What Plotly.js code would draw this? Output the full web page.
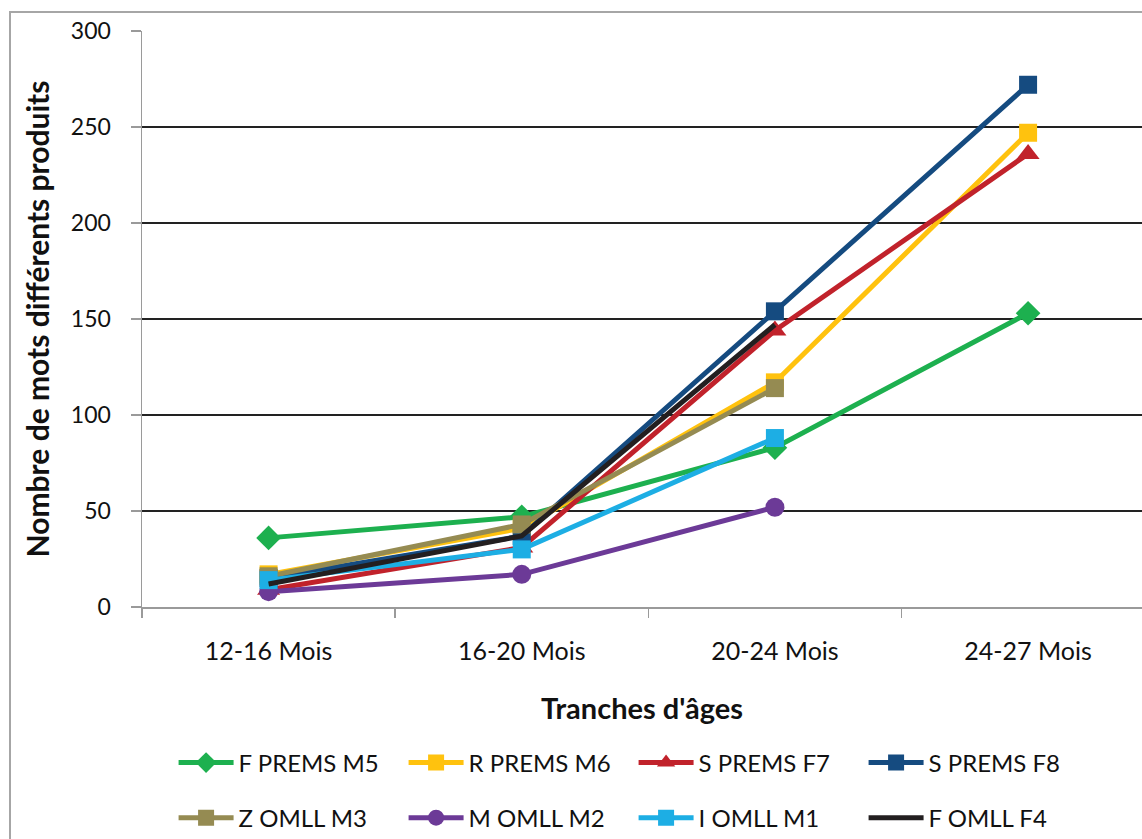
<!DOCTYPE html>
<html>
<head>
<meta charset="utf-8">
<script src="https://cdn.plot.ly/plotly-3.0.1.min.js"></script>
<style>html,body{margin:0;padding:0;background:#fff;}#chart{width:1142px;height:839px;}</style>
</head>
<body>
<div id="chart"></div>
<script>
const categories = ["12-16 Mois", "16-20 Mois", "20-24 Mois", "24-27 Mois"];
const seriesNames = ["F PREMS M5", "R PREMS M6", "S PREMS F7", "S PREMS F8", "Z OMLL M3", "M OMLL M2", "I OMLL M1", "F OMLL F4"];
const fPremsM5 = [36, 47, 83, 153];
const rPremsM6 = [17, 41, 117, 247];
const sPremsF7 = [9, 31, 144, 236];
const sPremsF8 = [15, 37, 154, 272];
const zOmllM3 = [16, 43, 114, null];
const mOmllM2 = [8, 17, 52, null];
const iOmllM1 = [14, 30, 88, null];
const fOmllF4 = [12, 37, 147, null];
const yTicks = [0, 50, 100, 150, 200, 250, 300];

const seriesValues = [fPremsM5, rPremsM6, sPremsF7, sPremsF8, zOmllM3, mOmllM2, iOmllM1, fOmllF4];
const colors = ["#1DB04F", "#FFC20E", "#C1222B", "#154B80", "#958B52", "#6C3A97", "#1DAEE4", "#231F20"];
const symbols = ["diamond", "square", "triangle-up", "square", "square", "circle", "square", null];
const sizes = [19, 18, 20, 18, 18, 19, 18, 0];

const traces = seriesNames.map((name, i) => ({
  type: "scatter",
  mode: symbols[i] ? "lines+markers" : "lines",
  name: name,
  x: categories,
  y: seriesValues[i],
  line: {color: colors[i], width: 5},
  marker: {symbol: symbols[i] || "circle", size: sizes[i] || 1, color: colors[i]},
  legend: i < 4 ? "legend" : "legend2",
  connectgaps: false
}));

const font = "Lato, sans-serif";
const legendCommon = {
  orientation: "h",
  xref: "container", yref: "container",
  x: 0.152, xanchor: "left",
  yanchor: "middle",
  font: {family: font, size: 24, color: "#111"},
  itemwidth: 55,
  entrywidth: 160,
  entrywidthmode: "pixels",
  bgcolor: "rgba(0,0,0,0)",
  traceorder: "normal"
};

const layout = {
  width: 1142, height: 839,
  margin: {l: 142, r: 0, t: 31, b: 232},
  paper_bgcolor: "#fff",
  plot_bgcolor: "#fff",
  font: {family: font, color: "#111"},
  showlegend: true,
  xaxis: {
    type: "category",
    range: [-0.5, 3.45],
    tickson: "boundaries",
    ticks: "outside",
    ticklen: 9,
    tickcolor: "#9a9a9a",
    tickwidth: 1.5,
    showline: true,
    linecolor: "#9a9a9a",
    linewidth: 1.5,
    showgrid: false,
    zeroline: false,
    tickfont: {family: font, size: 25, color: "#111"},
    ticklabelstandoff: 21,
    automargin: false,
    title: {text: "<b>Tranches d'âges</b>", font: {family: font, size: 29, color: "#111"}, standoff: 35}
  },
  yaxis: {
    range: [0, 300],
    tickvals: yTicks,
    ticks: "outside",
    ticklen: 10,
    tickcolor: "#9a9a9a",
    tickwidth: 1.5,
    showline: true,
    linecolor: "#9a9a9a",
    linewidth: 1.5,
    showgrid: true,
    gridcolor: "#222",
    gridwidth: 1.3,
    zeroline: false,
    automargin: false,
    tickfont: {family: font, size: 23, color: "#111"},
    ticklabelstandoff: 15,
    title: {text: "<b>Nombre de mots différents produits</b>", font: {family: font, size: 30, color: "#111"}, standoff: 12}
  },
  legend: Object.assign({}, legendCommon, {y: 0.0906}),
  legend2: Object.assign({}, legendCommon, {y: 0.025}),
  shapes: [{
    type: "rect", xref: "paper", yref: "paper",
    x0: -0.132, x1: 1.05, y0: -0.45, y1: 1.033,
    line: {color: "#a6a6a6", width: 2}, fillcolor: "rgba(0,0,0,0)", layer: "below"
  }]
};

Plotly.newPlot("chart", traces, layout, {displayModeBar: false, staticPlot: true});
</script>
</body>
</html>
